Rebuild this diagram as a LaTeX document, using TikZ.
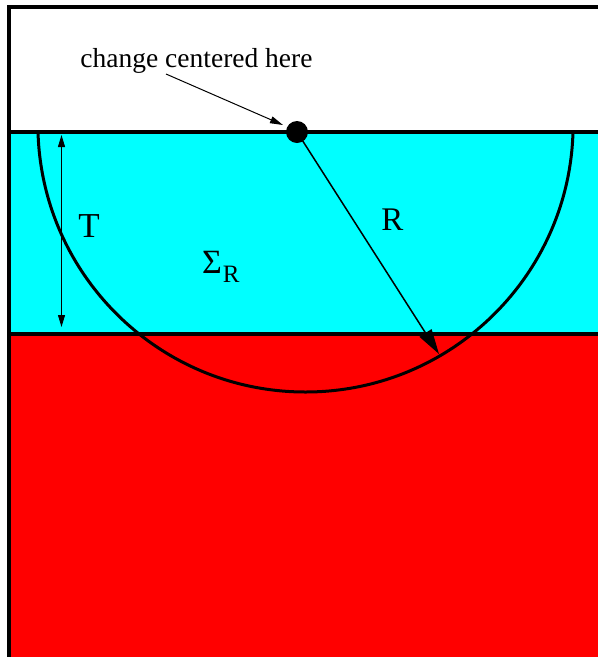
\documentclass[tikz,border=0pt]{standalone}
\usepackage{fontspec}
\setmainfont{Liberation Serif}
\usetikzlibrary{arrows.meta}
\definecolor{layercyan}{RGB}{0,255,255}
\definecolor{layerred}{RGB}{255,0,0}
\begin{document}
\begin{tikzpicture}[x=1pt,y=-1pt,
  border/.style={line width=4pt},
  thinarrow/.style={line width=1pt,-{Triangle[length=13pt,width=7pt]}},
  bigarrow/.style={line width=1.5pt,-{Triangle[length=25pt,width=14pt]}},
  dimarrow/.style={line width=1pt,{Triangle[length=12pt,width=7pt]}-{Triangle[length=12pt,width=7pt]}},
  lbl/.style={inner sep=0pt,anchor=base}]
\useasboundingbox (0,0) rectangle (598,657);
\fill[white] (0,0) rectangle (598,657);
% layers
\fill[layercyan] (9,132) rectangle (598,333);
\fill[layerred] (9,333) rectangle (598,657);
% half circle Sigma_R
\begin{scope}
\clip (9,132) rectangle (598,657);
\draw[line width=3pt] (305.5,124.4) circle[radius=267.6];
\end{scope}
% borders
\draw[border] (598,7) -- (9,7) -- (9,657);
\draw[border] (9,132) -- (598,132);
\draw[border] (9,333.5) -- (598,333.5);
% dot
\node[circle,fill=black,inner sep=0pt,minimum size=22pt] (dot) at (297,132) {};
\coordinate (rtip) at (439,354);
\draw[bigarrow] (dot.center) -- (rtip);
% label and pointer
\node[lbl,font=\fontsize{27.5}{27.5}\selectfont] (chg) at (196.5,67) {change centered here};
\coordinate (chgstart) at (166,74);
\coordinate (chgtip) at (283,125);
\draw[thinarrow] (chgstart) -- (chgtip);
% T dimension
\coordinate (ttop) at (61.5,135);
\coordinate (tbot) at (61.5,327);
\draw[dimarrow] (ttop) -- (tbot);
\node[lbl,font=\fontsize{35}{35}\selectfont] (T) at (89,237) {T};
\node[lbl,font=\fontsize{33}{33}\selectfont] (R) at (392.5,230) {R};
\node[lbl,anchor=base west] (sig) at (202,273) {{\fontsize{34}{34}\selectfont Σ}\kern1pt\raisebox{-9pt}{\fontsize{25}{25}\selectfont R}};
\end{tikzpicture}
\end{document}
